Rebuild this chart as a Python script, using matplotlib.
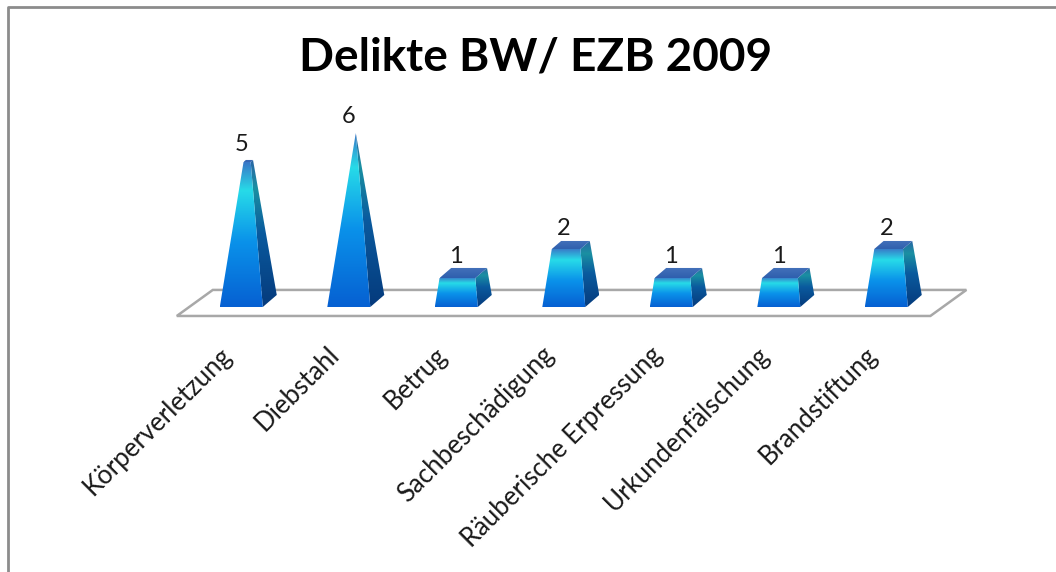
"""Pyramiden-Diagramm: Delikte BW/ EZB 2009 (Excel-3D-Optik nachgebaut)."""

import matplotlib
import numpy as np

matplotlib.use("Agg")
from matplotlib import pyplot as plt
from matplotlib.colors import LinearSegmentedColormap
from matplotlib.lines import Line2D
from matplotlib.patches import Polygon
from matplotlib.transforms import ScaledTranslation

# ---------------------------------------------------------------------------
# Daten
# ---------------------------------------------------------------------------
categories = [
    "Körperverletzung",
    "Diebstahl",
    "Betrug",
    "Sachbeschädigung",
    "Räuberische Erpressung",
    "Urkundenfälschung",
    "Brandstiftung",
]
counts = [5, 6, 1, 2, 1, 1, 2]
title = "Delikte BW/ EZB 2009"

# ---------------------------------------------------------------------------
# Optik
# ---------------------------------------------------------------------------
Y_MAX = 6          # Spitze der Pyramide
HALF = 0.2         # halbe Grundbreite (x-Einheiten)
DX, DY = 0.13, 0.43  # schraege Tiefe (x- bzw. y-Einheiten)
FONT = ["Lato", "DejaVu Sans"]

front_cmap = LinearSegmentedColormap.from_list(
    "front", [(0, "#0660d2"), (0.45, "#0a92ea"), (0.8, "#27dbe8"), (1, "#3a74c6")]
)
side_cmap = LinearSegmentedColormap.from_list(
    "side", [(0, "#053a7c"), (0.5, "#0a5a9e"), (0.8, "#1a90a2"), (1, "#2a64a4")]
)
top_cmap = LinearSegmentedColormap.from_list("top", ["#2f5fae", "#4472ba"])


def proj(x, y, z):
    """Schraegprojektion, z = Tiefenanteil 0..1."""
    return (x + DX * z, y + DY * z)


def shade(ax, verts, cmap, y0, y1, zorder):
    poly = Polygon(verts, closed=True, facecolor="none", edgecolor="none")
    ax.add_patch(poly)
    xs = [v[0] for v in verts]
    grad = np.linspace(0, 1, 256).reshape(-1, 1)
    im = ax.imshow(
        grad, cmap=cmap, origin="lower", aspect="auto", interpolation="bilinear",
        extent=(min(xs), max(xs), y0, y1), zorder=zorder,
    )
    im.set_clip_path(poly)


fig = plt.figure(figsize=(10.56, 5.72), dpi=100, facecolor="white")
ax = fig.add_axes([0.1776, 0.4388, 0.7126, 0.3427])
ax.set_xlim(-0.5, 6.5)
ax.set_ylim(-0.5, 6.5)
ax.set_autoscale_on(False)
for sp in ax.spines.values():
    sp.set_visible(False)
ax.set_yticks([])

# Boden
floor = Polygon(
    [(-0.6, -0.32), (6.41, -0.32), (6.745, 0.61), (-0.265, 0.61)],
    closed=True, facecolor="white", edgecolor="#a8a8a8", linewidth=1.8,
    clip_on=False, zorder=1,
)
ax.add_patch(floor)

for i, v in enumerate(counts):
    s = 1 - v / Y_MAX
    ht = HALF * s
    z0, z1 = (1 - s) / 2, (1 + s) / 2
    front = [proj(i - HALF, 0, 0), proj(i + HALF, 0, 0),
             proj(i + ht, v, z0), proj(i - ht, v, z0)]
    side = [proj(i + HALF, 0, 0), proj(i + HALF, 0, 1),
            proj(i + ht, v, z1), proj(i + ht, v, z0)]
    shade(ax, side, side_cmap, 0, v + DY * z1, 3)
    shade(ax, front, front_cmap, 0, v + DY * z0, 4)
    if s > 0:
        top = [proj(i - ht, v, z0), proj(i + ht, v, z0),
               proj(i + ht, v, z1), proj(i - ht, v, z1)]
        shade(ax, top, top_cmap, v + DY * z0, v + DY * z1, 5)
    ax.annotate(
        str(v), xy=(i, v + DY * 0.5), xytext=(0, 4), textcoords="offset points",
        ha="center", va="bottom", fontsize=17, family=FONT, color="#1a1a1a",
        annotation_clip=False,
    )

ax.set_xticks(range(len(categories)))
ax.set_xticklabels(categories, rotation=45, ha="right", rotation_mode="anchor",
                   fontsize=18.5, family=FONT, color="#1a1a1a")
ax.tick_params(axis="x", length=0, pad=15)
shift = ScaledTranslation(-16 / 72, 0, fig.dpi_scale_trans)
for lab in ax.get_xticklabels():
    lab.set_transform(lab.get_transform() + shift)

fig.text(0.507, 0.90, title, ha="center", va="center", fontsize=33,
         fontweight="bold", family=FONT, color="black")

# Rahmen (links und oben sichtbar)
fig.add_artist(Line2D([8 / 1056, 8 / 1056, 1], [0, 1 - 7 / 572, 1 - 7 / 572],
                      transform=fig.transFigure, color="#8c8c8c", linewidth=2))

fig.savefig("out.png", dpi=100, facecolor="white")
